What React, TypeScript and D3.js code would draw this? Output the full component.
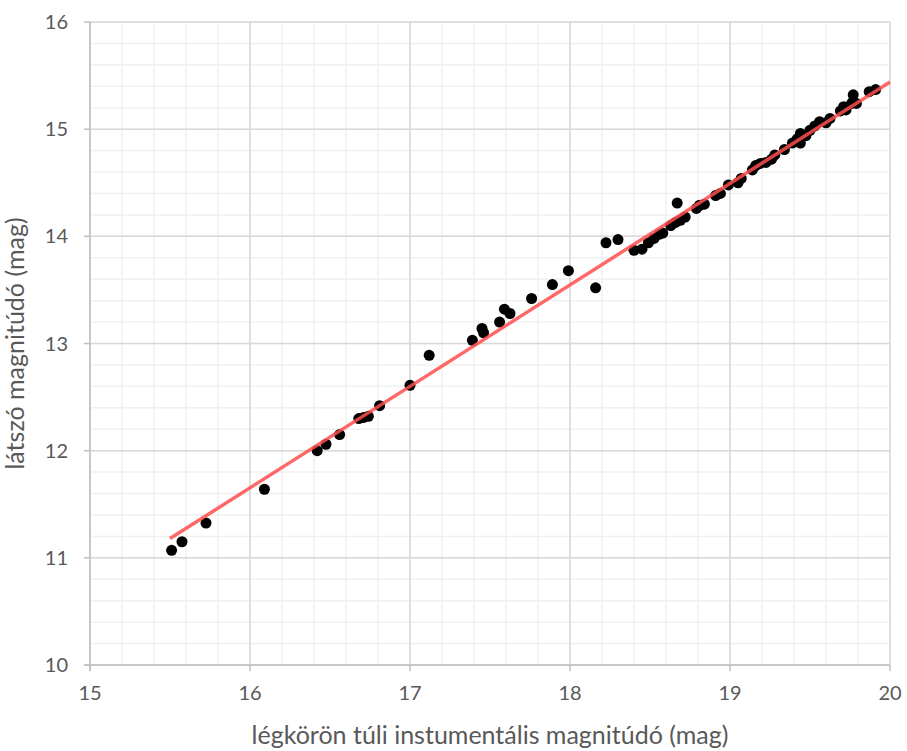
import React from "react";
import * as d3 from "d3";

const xValues = [15.51,15.575,15.725,16.09,16.42,16.475,16.56,16.68,16.71,16.74,16.81,17.0,17.12,17.39,17.45,17.46,17.56,17.59,17.625,17.76,17.89,17.99,18.16,18.225,18.30,18.40,18.45,18.49,18.525,18.56,18.58,18.63,18.66,18.67,18.69,18.72,18.79,18.81,18.84,18.91,18.94,18.99,19.05,19.07,19.14,19.16,19.19,19.225,19.26,19.28,19.34,19.39,19.42,19.44,19.44,19.475,19.50,19.53,19.56,19.60,19.625,19.69,19.71,19.725,19.76,19.77,19.77,19.79,19.87,19.91];
const yValues = [11.07,11.15,11.325,11.64,12.0,12.06,12.15,12.30,12.31,12.32,12.42,12.61,12.89,13.03,13.14,13.10,13.20,13.32,13.28,13.42,13.55,13.68,13.52,13.94,13.97,13.87,13.88,13.94,13.98,14.02,14.03,14.10,14.13,14.31,14.15,14.18,14.26,14.29,14.30,14.38,14.40,14.48,14.50,14.54,14.62,14.66,14.68,14.69,14.72,14.76,14.81,14.87,14.91,14.96,14.87,14.94,14.99,15.03,15.07,15.06,15.10,15.17,15.21,15.18,15.24,15.32,15.26,15.24,15.35,15.37];
const trendX = [15.5, 20];
const trendY = [11.18, 15.44];
const xTicks = [15, 16, 17, 18, 19, 20];
const yTicks = [10, 11, 12, 13, 14, 15, 16];
const xTitle = "légkörön túli instumentális magnitúdó (mag)";
const yTitle = "látszó magnitúdó (mag)";

export default function App() {
  const W = 907, H = 751;
  const left = 90, right = 890, top = 22, bottom = 665;
  const x = d3.scaleLinear().domain([15, 20]).range([left, right]);
  const y = d3.scaleLinear().domain([10, 16]).range([bottom, top]);
  const xMinor = d3.range(15, 20.001, 0.2);
  const yMinor = d3.range(10, 16.001, 0.2);
  const line = d3.line<number>().x((d, i) => x(trendX[i])).y((d, i) => y(trendY[i]));
  const font = "Lato, sans-serif";
  return (
    <svg width={W} height={H} style={{ position: "absolute", left: 0, top: 0 }} fontFamily={font}>
      <rect width={W} height={H} fill="#fff" />
      {xMinor.map((v, i) => (
        <line key={"xm" + i} x1={x(v)} x2={x(v)} y1={top} y2={bottom} stroke="#f0f0f0" strokeWidth={1.5} />
      ))}
      {yMinor.map((v, i) => (
        <line key={"ym" + i} x1={left} x2={right} y1={y(v)} y2={y(v)} stroke="#f0f0f0" strokeWidth={1.5} />
      ))}
      {xTicks.map((v) => (
        <line key={"xM" + v} x1={x(v)} x2={x(v)} y1={top} y2={bottom} stroke="#d9d9d9" strokeWidth={1.5} />
      ))}
      {yTicks.map((v) => (
        <line key={"yM" + v} x1={left} x2={right} y1={y(v)} y2={y(v)} stroke="#d9d9d9" strokeWidth={1.5} />
      ))}
      <line x1={left} x2={left} y1={top} y2={bottom + 6} stroke="#bfbfbf" strokeWidth={1.5} />
      <line x1={left - 6} x2={right} y1={bottom} y2={bottom} stroke="#bfbfbf" strokeWidth={1.5} />
      {xTicks.map((v) => (
        <g key={"xt" + v}>
          <line x1={x(v)} x2={x(v)} y1={bottom} y2={bottom + 6} stroke="#bfbfbf" strokeWidth={1.5} />
          <text x={x(v)} y={bottom + 35} textAnchor="middle" fontSize={20} fill="#595959">{v}</text>
        </g>
      ))}
      {yTicks.map((v) => (
        <g key={"yt" + v}>
          <line x1={left - 6} x2={left} y1={y(v)} y2={y(v)} stroke="#bfbfbf" strokeWidth={1.5} />
          <text x={left - 22} y={y(v) + 7} textAnchor="end" fontSize={20} fill="#595959">{v}</text>
        </g>
      ))}
      {xValues.map((v, i) => (
        <circle key={"p" + i} cx={x(v)} cy={y(yValues[i])} r={5.5} fill="#000" />
      ))}
      <path d={line(trendX) || ""} fill="none" stroke="#ff4d4d" strokeOpacity={0.85} strokeWidth={3.5} />
      <text x={490} y={744} textAnchor="middle" fontSize={25} fill="#595959">{xTitle}</text>
      <text transform={`translate(24,${(top + bottom) / 2}) rotate(-90)`} textAnchor="middle" fontSize={25} fill="#595959">{yTitle}</text>
    </svg>
  );
}
